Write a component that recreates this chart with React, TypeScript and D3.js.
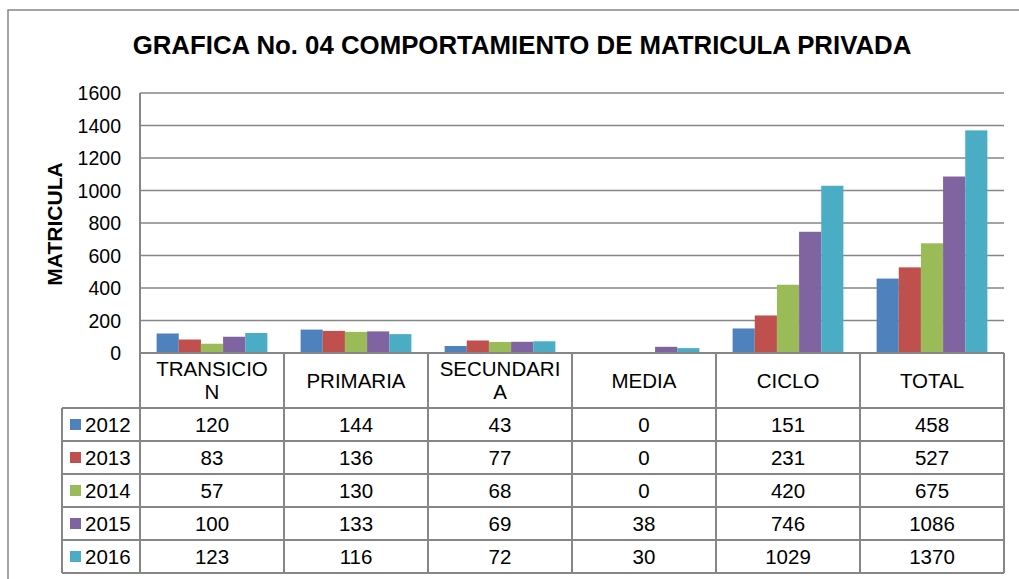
import React, { useEffect, useRef } from 'react';
import * as d3 from 'd3';

const categoryLabels = [['TRANSICIO', 'N'], ['PRIMARIA'], ['SECUNDARI', 'A'], ['MEDIA'], ['CICLO'], ['TOTAL']];
const years = ['2012', '2013', '2014', '2015', '2016'];
const values2012 = [120, 144, 43, 0, 151, 458];
const values2013 = [83, 136, 77, 0, 231, 527];
const values2014 = [57, 130, 68, 0, 420, 675];
const values2015 = [100, 133, 69, 38, 746, 1086];
const values2016 = [123, 116, 72, 30, 1029, 1370];
const colors = ['#4F81BD', '#C0504D', '#9BBB59', '#8064A2', '#4BACC6'];

const series = [values2012, values2013, values2014, values2015, values2016];

export default function App() {
  const ref = useRef<SVGSVGElement>(null);
  const width = 1019;
  const height = 579;
  const plot = { left: 140, right: 1004, top: 93, bottom: 353 };
  const headerH = 55;
  const rowH = 33;
  const legendLeft = 62;
  const font = '"Liberation Sans", Arial, sans-serif';
  const grid = '#868686';

  useEffect(() => {
    const svg = d3.select(ref.current);
    svg.selectAll('*').remove();

    // outer frame
    svg.append('rect')
      .attr('x', 8).attr('y', 10)
      .attr('width', 1100).attr('height', 700)
      .attr('fill', '#fff')
      .attr('stroke', grid).attr('stroke-width', 1.5);

    svg.append('text')
      .attr('x', 522).attr('y', 54)
      .attr('text-anchor', 'middle')
      .style('font-family', font).style('font-weight', 'bold').style('font-size', '25.8px')
      .text('GRAFICA No. 04 COMPORTAMIENTO DE MATRICULA PRIVADA');

    const x = d3.scaleBand<number>()
      .domain(d3.range(categoryLabels.length))
      .range([plot.left, plot.right]);
    const bw = x.bandwidth();
    const gap = bw * 1.5 / 6.5;
    const xs = d3.scaleBand<number>()
      .domain(d3.range(years.length))
      .range([gap / 2, bw - gap / 2]);
    const y = d3.scaleLinear().domain([0, 1600]).range([plot.bottom, plot.top]);

    // gridlines
    svg.append('g').selectAll('line')
      .data(y.ticks(8))
      .enter().append('line')
      .attr('x1', plot.left).attr('x2', plot.right)
      .attr('y1', d => y(d)).attr('y2', d => y(d))
      .attr('stroke', grid).attr('stroke-width', 1.5);

    svg.append('g').selectAll('text')
      .data(y.ticks(8))
      .enter().append('text')
      .attr('x', 121).attr('y', d => y(d) + 7)
      .attr('text-anchor', 'end')
      .style('font-family', font).style('font-size', '19.5px')
      .text(d => d);

    svg.append('text')
      .attr('transform', 'translate(62,224) rotate(-90)')
      .attr('text-anchor', 'middle')
      .style('font-family', font).style('font-weight', 'bold').style('font-size', '21px')
      .text('MATRICULA');

    // bars
    series.forEach((vals, si) => {
      svg.append('g').selectAll('rect')
        .data(vals)
        .enter().append('rect')
        .attr('x', (d, i) => (x(i) as number) + (xs(si) as number))
        .attr('width', xs.bandwidth())
        .attr('y', d => y(d))
        .attr('height', d => plot.bottom - y(d))
        .attr('fill', colors[si]);
    });

    // axis line
    const tableBottom = plot.bottom + headerH + rowH * years.length;
    svg.append('line')
      .attr('x1', plot.left).attr('x2', plot.left)
      .attr('y1', plot.top).attr('y2', tableBottom)
      .attr('stroke', grid).attr('stroke-width', 2);

    // table
    const tbl = svg.append('g');
    tbl.append('line')
      .attr('x1', plot.left).attr('x2', plot.right)
      .attr('y1', plot.bottom).attr('y2', plot.bottom)
      .attr('stroke', grid).attr('stroke-width', 2);
    d3.range(years.length + 1).forEach(r => {
      const yy = plot.bottom + headerH + rowH * r;
      tbl.append('line')
        .attr('x1', legendLeft).attr('x2', plot.right)
        .attr('y1', yy).attr('y2', yy)
        .attr('stroke', grid).attr('stroke-width', 2);
    });
    tbl.append('line')
      .attr('x1', legendLeft).attr('x2', legendLeft)
      .attr('y1', plot.bottom + headerH).attr('y2', tableBottom)
      .attr('stroke', grid).attr('stroke-width', 2);
    d3.range(1, categoryLabels.length + 1).forEach(i => {
      const xx = plot.left + bw * i;
      tbl.append('line')
        .attr('x1', xx).attr('x2', xx)
        .attr('y1', plot.bottom).attr('y2', tableBottom)
        .attr('stroke', grid).attr('stroke-width', 2);
    });

    // header labels
    categoryLabels.forEach((lines, i) => {
      const cx = (x(i) as number) + bw / 2;
      const cy = plot.bottom + headerH / 2;
      const lh = 23;
      lines.forEach((ln, li) => {
        tbl.append('text')
          .attr('x', cx)
          .attr('y', cy + 7 + (li - (lines.length - 1) / 2) * lh)
          .attr('text-anchor', 'middle')
          .style('font-family', font).style('font-size', '20.5px')
          .text(ln);
      });
    });

    // rows
    years.forEach((yr, si) => {
      const cy = plot.bottom + headerH + rowH * si + rowH / 2;
      tbl.append('rect')
        .attr('x', 70).attr('y', cy - 5.5)
        .attr('width', 11).attr('height', 11)
        .attr('fill', colors[si]);
      tbl.append('text')
        .attr('x', 85).attr('y', cy + 7.5)
        .style('font-family', font).style('font-size', '20.5px')
        .text(yr);
      series[si].forEach((v, i) => {
        tbl.append('text')
          .attr('x', (x(i) as number) + bw / 2)
          .attr('y', cy + 7.5)
          .attr('text-anchor', 'middle')
          .style('font-family', font).style('font-size', '20.5px')
          .text(v);
      });
    });
  }, []);

  return (
    <svg ref={ref} width={width} height={height}
      style={{ position: 'absolute', left: 0, top: 0, background: '#fff' }} />
  );
}
